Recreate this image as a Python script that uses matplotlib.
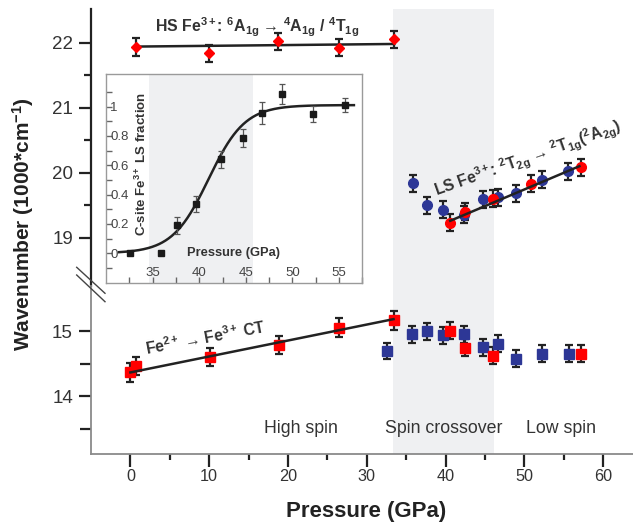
import numpy as np
import matplotlib
matplotlib.use('Agg')
import matplotlib.pyplot as plt
from matplotlib.lines import Line2D

plt.rcParams['font.family'] = ['Liberation Sans', 'DejaVu Sans']
plt.rcParams['mathtext.fontset'] = 'custom'
plt.rcParams['mathtext.rm'] = 'Liberation Sans'
plt.rcParams['mathtext.bf'] = 'Liberation Sans:bold'
plt.rcParams['mathtext.it'] = 'Liberation Sans:italic'
plt.rcParams['mathtext.default'] = 'bf'

# ---------------- data ----------------
# HS Fe3+ band (upper panel, red diamonds)
hs_p = [0.7, 10.0, 18.8, 26.5, 33.5]
hs_w = [21.93, 21.84, 22.02, 21.92, 22.05]
hs_err = [0.14, 0.13, 0.13, 0.13, 0.13]
hs_fit_p = [0.7, 33.5]
hs_fit_w = [21.94, 21.98]

# LS Fe3+ band (upper panel, circles)
ls_blue_p = [35.9, 37.6, 39.7, 42.3, 44.7, 46.7, 48.9, 52.2, 55.6]
ls_blue_w = [19.84, 19.50, 19.43, 19.35, 19.59, 19.62, 19.68, 19.89, 20.02]
ls_blue_err = [0.13, 0.13, 0.13, 0.13, 0.13, 0.13, 0.13, 0.13, 0.13]
ls_red_p = [40.6, 42.5, 46.0, 50.8, 57.2]
ls_red_w = [19.23, 19.40, 19.60, 19.83, 20.08]
ls_red_err = [0.13, 0.13, 0.13, 0.13, 0.13]
ls_fit_p = [40.6, 57.0]
ls_fit_w = [19.26, 20.10]

# Fe2+ -> Fe3+ CT band (lower panel, squares)
ct_red_p = [-0.05, 0.7, 10.1, 18.9, 26.5, 33.4]
ct_red_w = [14.37, 14.47, 14.61, 14.79, 15.06, 15.17]
ct_red_err = [0.14, 0.14, 0.14, 0.14, 0.14, 0.14]
ct_fit_p = [0.0, 33.4]
ct_fit_w = [14.37, 15.19]

lo_blue_p = [32.6, 35.8, 37.6, 39.7, 42.4, 44.7, 46.6, 48.9, 52.2, 55.7]
lo_blue_w = [14.70, 14.96, 15.00, 14.94, 14.96, 14.76, 14.81, 14.58, 14.66, 14.66]
lo_blue_err = [0.13, 0.13, 0.13, 0.13, 0.13, 0.13, 0.13, 0.13, 0.13, 0.13]
lo_red_p = [40.6, 42.5, 46.0, 57.2]
lo_red_w = [15.01, 14.75, 14.63, 14.66]
lo_red_err = [0.13, 0.13, 0.13, 0.13]

# inset: C-site Fe3+ LS fraction
frac_p = [32.6, 35.9, 37.6, 39.7, 42.3, 44.7, 46.7, 48.9, 52.2, 55.6]
frac = [0.0, 0.0, 0.19, 0.336, 0.64, 0.786, 0.955, 1.083, 0.948, 1.01]
frac_err = [0.0, 0.0, 0.06, 0.055, 0.06, 0.06, 0.075, 0.068, 0.055, 0.05]
fit_p0, fit_width, fit_amp = 41.0, 1.95, 1.01
fit_range = (31.4, 56.6)

crossover_main = (33.3, 46.1)
crossover_inset = (34.57, 45.8)

xticks_main = [0, 10, 20, 30, 40, 50, 60]
yticks_top = [19, 20, 21, 22]
yticks_bot = [14, 15]

RED = '#ff0000'
BLUE = '#2d3796'
DARK = '#222222'
SHADE = '#eff0f2'

# ---------------- layout ----------------
W, H = 633, 525
fig = plt.figure(figsize=(W / 100, H / 100), dpi=100)


def rect(x0, y0, x1, y1):
    return [x0 / W, 1 - y1 / H, (x1 - x0) / W, (y1 - y0) / H]


ax_top = fig.add_axes(rect(91, 9, 633, 286))
ax_bot = fig.add_axes(rect(91, 286, 633, 454))
ax_in = fig.add_axes(rect(106, 74.3, 362.3, 283.3))

for ax in (ax_top, ax_bot):
    ax.set_xlim(-5, 63.8)
    ax.axvspan(*crossover_main, color=SHADE, lw=0, zorder=0)
    ax.spines['top'].set_visible(False)
    ax.spines['right'].set_visible(False)
    ax.patch.set_alpha(0)

ax_top.set_ylim(18.257, 22.518)
ax_bot.set_ylim(13.115, 15.70)

ax_top.spines['bottom'].set_visible(False)
ax_top.spines['left'].set_color(DARK)
ax_top.spines['left'].set_linewidth(1.6)
ax_top.tick_params(axis='x', bottom=False, labelbottom=False)
ax_top.set_yticks(yticks_top)
ax_top.set_yticks([19.5, 20.5, 21.5], minor=True)
ax_top.tick_params(axis='y', which='major', length=9, width=1.6, color=DARK,
                   labelsize=13.5, labelcolor='#333333', pad=4)
ax_top.tick_params(axis='y', which='minor', length=5, width=1.6, color=DARK)

ax_bot.spines['top'].set_visible(False)
ax_bot.spines['left'].set_color('#8a8a8a')
ax_bot.spines['left'].set_linewidth(1.3)
ax_bot.spines['bottom'].set_color('#8a8a8a')
ax_bot.spines['bottom'].set_linewidth(1.3)
ax_bot.set_yticks(yticks_bot)
ax_bot.set_yticks([13.5, 14.5], minor=True)
ax_bot.tick_params(axis='y', which='major', length=9, width=1.6, color=DARK,
                   labelsize=13.5, labelcolor='#333333', pad=4)
ax_bot.tick_params(axis='y', which='minor', length=8, width=1.6, color=DARK)
ax_bot.set_xticks(xticks_main)
ax_bot.set_xticks([5, 15, 25, 35, 45, 55], minor=True)
ax_bot.tick_params(axis='x', which='major', length=9, width=1.6, color=DARK,
                   labelsize=11.7, labelcolor='#333333', pad=2)
ax_bot.tick_params(axis='x', which='minor', length=4, width=1.6, color=DARK)

eb_kw = dict(ecolor=DARK, elinewidth=1.6, capsize=3, capthick=1.6, linestyle='none')

# upper panel
ax_top.plot(hs_fit_p, hs_fit_w, color=DARK, lw=1.8, zorder=2)
ax_top.errorbar(hs_p, hs_w, yerr=hs_err, fmt='D', color=RED, ms=5.5, zorder=3, **eb_kw)
ax_top.errorbar(ls_blue_p, ls_blue_w, yerr=ls_blue_err, fmt='o', color=BLUE, ms=7, zorder=3, **eb_kw)
ax_top.errorbar(ls_red_p, ls_red_w, yerr=ls_red_err, fmt='o', color=RED, ms=7, zorder=3, **eb_kw)
ax_top.plot(ls_fit_p, ls_fit_w, color=DARK, lw=1.8, zorder=4)

# lower panel
ax_bot.errorbar(ct_red_p, ct_red_w, yerr=ct_red_err, fmt='s', color=RED, ms=7, zorder=3, **eb_kw)
ax_bot.plot(ct_fit_p, ct_fit_w, color=DARK, lw=1.8, zorder=4)
ax_bot.errorbar(lo_blue_p, lo_blue_w, yerr=lo_blue_err, fmt='s', color=BLUE, ms=6.7, zorder=3, **eb_kw)
ax_bot.errorbar(lo_red_p, lo_red_w, yerr=lo_red_err, fmt='s', color=RED, ms=6.7, zorder=3, **eb_kw)

# annotations
ax_top.text(3.1, 22.154, 'HS Fe$^{3+}$: $^{6}$A$_{1g}$ \u2192 $^{4}$A$_{1g}$ / $^{4}$T$_{1g}$',
            fontsize=11.4, fontweight='bold', color='#333333', ha='left', va='baseline')
ax_top.text(50.4, 20.21, 'LS Fe$^{3+}$: $^{2}$T$_{2g}$ \u2192 $^{2}$T$_{1g}$($^{2}$A$_{2g}$)',
            fontsize=11.3, fontweight='bold', color='#333333', ha='center', va='center',
            rotation=19.5, rotation_mode='anchor')
ax_bot.text(9.5, 14.91, 'Fe$^{2+}$ \u2192 Fe$^{3+}$ CT', fontsize=11.3, fontweight='bold',
            color='#333333', ha='center', va='center', rotation=10.5, rotation_mode='anchor')
for label, px in (('High spin', 21.7), ('Spin crossover', 39.8), ('Low spin', 54.7)):
    ax_bot.text(px, 13.51, label, fontsize=12.8, color='#333333', ha='center', va='center')

fig.text(366.5 / W, 1 - 512 / H, 'Pressure (GPa)', fontsize=16, fontweight='bold',
         color='#222222', ha='center', va='center')
fig.text(23 / W, 1 - 224 / H, 'Wavenumber (1000*cm$^{-1}$)', fontsize=15, fontweight='bold',
         color='#222222', ha='center', va='center', rotation=90)

# axis break marks
for (x0, y0, x1, y1) in ((76.7, 267.3, 105, 293.3), (76.7, 275, 105, 301.7)):
    fig.add_artist(Line2D([x0 / W, x1 / W], [1 - y0 / H, 1 - y1 / H], color='#444444', lw=1.0))

# ---------------- inset ----------------
ax_in.set_zorder(5)
ax_in.set_facecolor('white')
ax_in.set_xlim(30, 57.3)
ax_in.set_ylim(-0.205, 1.22)
ax_in.axvspan(*crossover_inset, color=SHADE, lw=0, zorder=0)
for s in ax_in.spines.values():
    s.set_color('#9a9a9a')
    s.set_linewidth(1.0)
ax_in.set_xticks([35, 40, 45, 50, 55])
ax_in.set_xticks([32.5, 37.5, 42.5, 47.5, 52.5, 57.5], minor=True)
ax_in.set_yticks([0, 0.2, 0.4, 0.6, 0.8, 1.0])
ax_in.set_yticks([-0.1, 0.1, 0.3, 0.5, 0.7, 0.9, 1.1], minor=True)
ax_in.set_yticklabels(['0', '0.2', '0.4', '0.6', '0.8', '1'])
ax_in.tick_params(axis='both', which='both', direction='in', color='#666666',
                  labelcolor='#444444', labelsize=9.5, length=4, width=1.0)
ax_in.tick_params(axis='x', which='major', pad=-12)
ax_in.tick_params(axis='y', which='major', pad=-3)
for lbl in ax_in.get_yticklabels():
    lbl.set_ha('left')

pp = np.linspace(fit_range[0], fit_range[1], 300)
ax_in.plot(pp, fit_amp / (1 + np.exp(-(pp - fit_p0) / fit_width)), color=DARK, lw=1.8, zorder=2)
ax_in.errorbar(frac_p, frac, yerr=frac_err, fmt='s', color='#1a1a1a', ms=4, ecolor='#555555',
               elinewidth=0.9, capsize=2.2, capthick=0.9, zorder=3)
ax_in.text(33.8, 0.61, 'C-site Fe$^{3+}$ LS fraction', rotation=90, fontsize=9.5,
           fontweight='bold', color='#333333', ha='center', va='center')
ax_in.text(38.7, 0.0, 'Pressure (GPa)', fontsize=9.3, fontweight='bold', color='#333333',
           ha='left', va='center')

fig.savefig('out.png', dpi=100)
